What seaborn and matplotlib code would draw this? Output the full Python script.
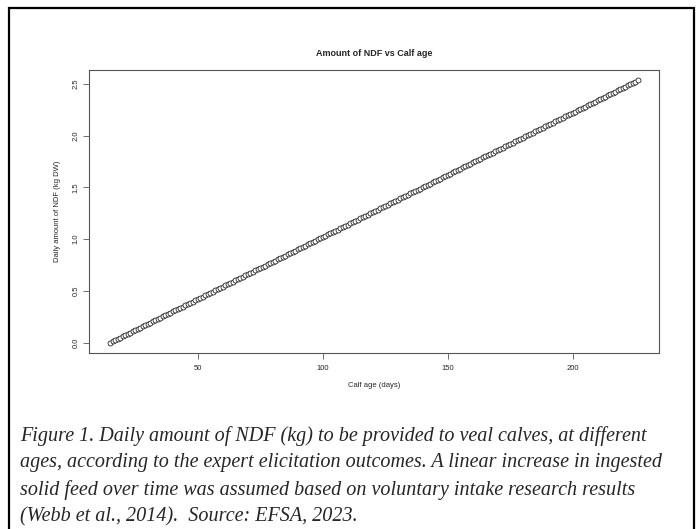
import matplotlib
matplotlib.use("Agg")
import matplotlib.pyplot as plt
import seaborn as sns
import pandas as pd
from matplotlib.patches import Rectangle

# calf age in days (one point per day)
ages = list(range(15, 227))

# daily NDF amount, kg DW
ndf = [
    0.000, 0.012, 0.024, 0.036, 0.048, 0.060, 0.072, 0.084, 0.096, 0.108,
    0.120, 0.132, 0.144, 0.156, 0.168, 0.180, 0.192, 0.204, 0.216, 0.228,
    0.240, 0.252, 0.264, 0.276, 0.288, 0.300, 0.312, 0.324, 0.336, 0.348,
    0.360, 0.372, 0.384, 0.396, 0.408, 0.420, 0.432, 0.444, 0.456, 0.468,
    0.480, 0.492, 0.504, 0.516, 0.528, 0.540, 0.552, 0.564, 0.576, 0.588,
    0.600, 0.612, 0.624, 0.636, 0.648, 0.660, 0.672, 0.684, 0.696, 0.708,
    0.720, 0.732, 0.744, 0.756, 0.768, 0.780, 0.792, 0.804, 0.816, 0.828,
    0.840, 0.852, 0.864, 0.876, 0.888, 0.900, 0.912, 0.924, 0.936, 0.948,
    0.960, 0.972, 0.984, 0.996, 1.008, 1.020, 1.032, 1.044, 1.056, 1.068,
    1.080, 1.092, 1.104, 1.116, 1.128, 1.140, 1.152, 1.164, 1.176, 1.188,
    1.200, 1.212, 1.224, 1.236, 1.248, 1.260, 1.272, 1.284, 1.296, 1.308,
    1.320, 1.332, 1.344, 1.356, 1.368, 1.380, 1.392, 1.404, 1.416, 1.428,
    1.440, 1.452, 1.464, 1.476, 1.488, 1.500, 1.512, 1.524, 1.536, 1.548,
    1.560, 1.572, 1.584, 1.596, 1.608, 1.620, 1.632, 1.644, 1.656, 1.668,
    1.680, 1.692, 1.704, 1.716, 1.728, 1.740, 1.752, 1.764, 1.776, 1.788,
    1.800, 1.812, 1.824, 1.836, 1.848, 1.860, 1.872, 1.884, 1.896, 1.908,
    1.920, 1.932, 1.944, 1.956, 1.968, 1.980, 1.992, 2.004, 2.016, 2.028,
    2.040, 2.052, 2.064, 2.076, 2.088, 2.100, 2.112, 2.124, 2.136, 2.148,
    2.160, 2.172, 2.184, 2.196, 2.208, 2.220, 2.232, 2.244, 2.256, 2.268,
    2.280, 2.292, 2.304, 2.316, 2.328, 2.340, 2.352, 2.364, 2.376, 2.388,
    2.400, 2.412, 2.424, 2.436, 2.448, 2.460, 2.472, 2.484, 2.496, 2.508,
    2.520, 2.532,
]

x_ticks = [50, 100, 150, 200]
y_ticks = [0.0, 0.5, 1.0, 1.5, 2.0, 2.5]
y_tick_labels = ["0.0", "0.5", "1.0", "1.5", "2.0", "2.5"]

caption = ("Figure 1. Daily amount of NDF (kg) to be provided to veal calves, at different\n"
           "ages, according to the expert elicitation outcomes. A linear increase in ingested\n"
           "solid feed over time was assumed based on voluntary intake research results\n"
           "(Webb et al., 2014).  Source: EFSA, 2023.")

df = pd.DataFrame({"age": ages, "ndf": ndf})

sns.set_style("white")
plt.rcParams["font.family"] = ["Liberation Sans", "DejaVu Sans"]

fig = plt.figure(figsize=(6.96, 5.29), dpi=100)
ax = fig.add_axes([89 / 696, 1 - 353 / 529, (659 - 89) / 696, (353 - 70) / 529])

sns.scatterplot(data=df, x="age", y="ndf", ax=ax, marker="o", s=13,
                facecolor="white", edgecolor="black", linewidth=0.5)

# R-like 4% padding
xr = max(ages) - min(ages)
yr = max(ndf) - min(ndf)
ax.set_xlim(min(ages) - 0.04 * xr, max(ages) + 0.04 * xr)
ax.set_ylim(min(ndf) - 0.04 * yr, max(ndf) + 0.04 * yr)

ax.set_xticks(x_ticks)
ax.set_xticklabels([str(t) for t in x_ticks], fontsize=5.5)
ax.set_yticks(y_ticks)
ax.set_yticklabels(y_tick_labels, fontsize=5.5, rotation=90, va="center")
ax.tick_params(axis="both", direction="out", length=4, width=0.6,
               color="#555555", bottom=True, left=True)
ax.tick_params(axis="x", pad=5)
ax.tick_params(axis="y", pad=3)

for sp in ax.spines.values():
    sp.set_color("#555555")
    sp.set_linewidth(0.8)

ax.set_xlabel("Calf age (days)", fontsize=5.5, labelpad=7)
ax.set_ylabel("Daily amount of NDF (kg DW)", fontsize=5.5, labelpad=8)
ax.set_title("Amount of NDF vs Calf age", fontsize=6.5, fontweight="bold", pad=10)

# outer frame
fig.patches.append(Rectangle((9 / 696, -0.01), (694 - 9) / 696, 1 - 8 / 529 + 0.01,
                             transform=fig.transFigure, fill=False,
                             edgecolor="black", linewidth=1.6))

fig.text(20 / 696, 1 - 426 / 529, caption, fontsize=14.5, style="italic",
         family=["Liberation Serif", "DejaVu Serif"], va="top", ha="left",
         linespacing=1.52)

fig.savefig("out.png", dpi=100)
